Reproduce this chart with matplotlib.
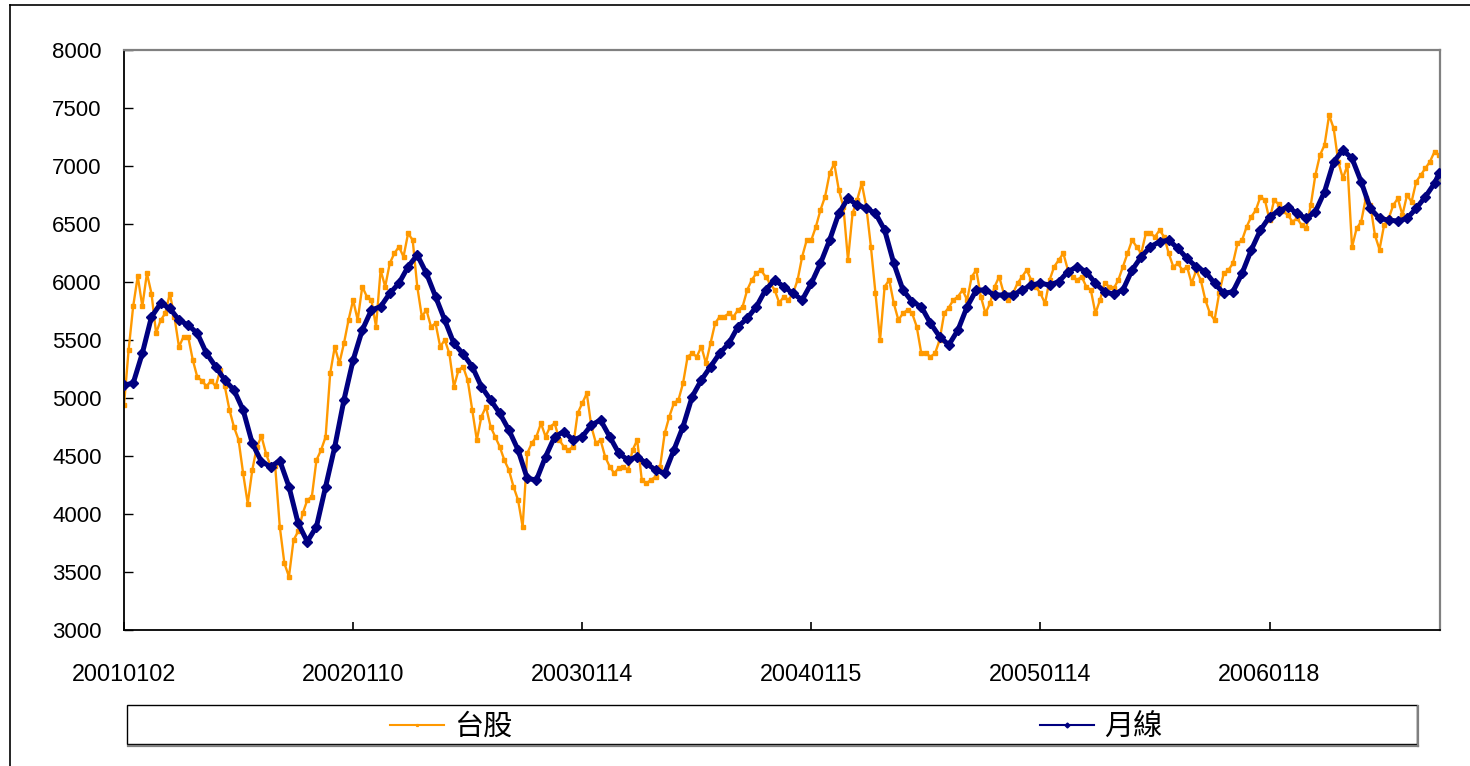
import numpy as np
import matplotlib
matplotlib.use("Agg")
import matplotlib.pyplot as plt
from matplotlib.lines import Line2D
from matplotlib.patches import Rectangle

# 台股 weekly readings (every 5 trading days, from 20010102)
taiex = [
    4940, 5410, 5790, 6050, 5790, 6075, 5900, 5560, 5670, 5730,
    5900, 5700, 5440, 5530, 5530, 5330, 5180, 5150, 5100, 5150,
    5100, 5240, 5100, 4900, 4750, 4640, 4350, 4090, 4380, 4580,
    4670, 4520, 4410, 4410, 3890, 3575, 3460, 3775, 3850, 4005,
    4120, 4150, 4465, 4550, 4665, 5213, 5442, 5299, 5471, 5672,
    5845, 5672, 5960, 5874, 5845, 5615, 6103, 5960, 6161, 6247,
    6304, 6218, 6419, 6362, 5960, 5701, 5759, 5615, 5644, 5442,
    5500, 5385, 5098, 5240, 5270, 5155, 4897, 4638, 4839, 4925,
    4753, 4667, 4580, 4465, 4379, 4236, 4120, 3890, 4523, 4610,
    4667, 4782, 4667, 4753, 4782, 4638, 4580, 4552, 4580, 4868,
    4954, 5040, 4753, 4610, 4638, 4494, 4408, 4350, 4400, 4408,
    4380, 4552, 4638, 4293, 4265, 4293, 4322, 4408, 4696, 4839,
    4954, 4983, 5127, 5356, 5385, 5356, 5443, 5299, 5471, 5644,
    5701, 5701, 5730, 5701, 5759, 5787, 5931, 6017, 6075, 6103,
    6046, 5989, 5931, 5820, 5874, 5845, 5902, 6017, 6218, 6362,
    6362, 6477, 6621, 6736, 6937, 7023, 6793, 6649, 6190, 6592,
    6707, 6851, 6649, 6305, 5902, 5500, 5960, 6017, 5816, 5672,
    5730, 5759, 5730, 5615, 5385, 5385, 5356, 5385, 5500, 5730,
    5780, 5845, 5874, 5931, 5845, 6046, 6103, 5874, 5730, 5816,
    5960, 6046, 5902, 5845, 5902, 5989, 6046, 6103, 6017, 5960,
    5902, 5816, 6017, 6132, 6190, 6247, 6103, 6046, 6017, 6046,
    5960, 5931, 5730, 5845, 5989, 5960, 5945, 6017, 6131, 6246,
    6361, 6304, 6246, 6419, 6419, 6390, 6447, 6390, 6246, 6131,
    6160, 6102, 6131, 5988, 6102, 6016, 5844, 5729, 5672, 5901,
    6074, 6102, 6160, 6332, 6361, 6476, 6562, 6619, 6734, 6706,
    6534, 6706, 6670, 6610, 6577, 6520, 6548, 6491, 6462, 6663,
    6922, 7094, 7180, 7439, 7324, 7037, 6893, 7008, 6300, 6462,
    6520, 6720, 6663, 6404, 6280, 6491, 6548, 6663, 6720, 6577,
    6749, 6692, 6864, 6922, 6979, 7037, 7123, 7094,
]

# 月線 readings (every 10 trading days, last one at day 1435)
monthly = [
    5112, 5127, 5385, 5700, 5816, 5773, 5672, 5629, 5558, 5385,
    5270, 5155, 5069, 4896, 4609, 4451, 4408, 4460, 4236, 3920,
    3762, 3891, 4236, 4580, 4983, 5327, 5586, 5759, 5787, 5902,
    5989, 6132, 6233, 6075, 5874, 5672, 5470, 5380, 5270, 5098,
    4983, 4868, 4724, 4552, 4307, 4293, 4494, 4667, 4710, 4638,
    4667, 4767, 4810, 4667, 4523, 4465, 4494, 4437, 4379, 4350,
    4552, 4753, 5012, 5155, 5270, 5385, 5471, 5615, 5687, 5787,
    5931, 6017, 5960, 5902, 5845, 5989, 6161, 6362, 6592, 6721,
    6664, 6635, 6592, 6448, 6161, 5931, 5830, 5787, 5644, 5529,
    5457, 5586, 5787, 5931, 5931, 5888, 5888, 5888, 5931, 5974,
    5989, 5974, 6003, 6089, 6132, 6089, 5989, 5916, 5895, 5931,
    6103, 6218, 6304, 6347, 6361, 6290, 6203, 6131, 6088, 5988,
    5902, 5916, 6074, 6275, 6447, 6562, 6613, 6649, 6591, 6548,
    6606, 6778, 7037, 7137, 7066, 6864, 6634, 6548, 6534, 6525,
    6548, 6634, 6735, 6850, 6936,
]

tick_labels = ["20010102", "20020110", "20030114", "20040115", "20050114", "20060118"]
tick_pos = [0, 250, 500, 750, 1000, 1250]

taiex_x = np.arange(len(taiex)) * 5
monthly_x = np.append(np.arange(len(monthly) - 1) * 10, 1435)

W, H = 1470, 766
fig = plt.figure(figsize=(W / 100, H / 100), dpi=100)
fig.patch.set_facecolor("white")

ax = fig.add_axes([124 / W, (H - 630) / H, 1316 / W, 580 / H])
ax.plot(taiex_x, taiex, color="#FF9900", lw=1.7, marker="s", ms=2.6,
        mec="#FF9900", label="台股", zorder=2)
ax.plot(monthly_x, monthly, color="#000080", lw=3.6, marker="D", ms=5.0,
        mec="#000080", label="月線", zorder=3)

ax.set_xlim(0, 1436)
ax.set_ylim(3000, 8000)
ax.set_yticks(np.arange(3000, 8001, 500))
ax.set_xticks(tick_pos)
ax.set_xticklabels(tick_labels)

for lab in ax.get_yticklabels():
    lab.set_fontfamily("Liberation Sans")
    lab.set_fontsize(16)
for lab in ax.get_xticklabels():
    lab.set_fontfamily("Liberation Sans")
    lab.set_fontsize(16.8)
ax.tick_params(axis="y", direction="in", length=6.5, width=1, pad=16)
ax.tick_params(axis="x", direction="in", length=6, width=1.2, pad=24)

for side in ["left", "bottom"]:
    ax.spines[side].set_color("black")
    ax.spines[side].set_linewidth(1.3)
for side in ["top", "right"]:
    ax.spines[side].set_color("#808080")
    ax.spines[side].set_linewidth(1.6)

# outer chart border (top and left visible)
fig.add_artist(Line2D([10 / W, 1], [1 - 5 / H, 1 - 5 / H], transform=fig.transFigure,
                      color="black", lw=1.2))
fig.add_artist(Line2D([10 / W, 10 / W], [0, 1 - 5 / H], transform=fig.transFigure,
                      color="black", lw=1.2))

# legend box
fig.add_artist(Line2D([128 / W, 1418 / W], [1 - 745.5 / H, 1 - 745.5 / H],
                      transform=fig.transFigure, color="#808080", lw=1.6))
fig.add_artist(Line2D([1418 / W, 1418 / W], [1 - 745.5 / H, 1 - 706 / H],
                      transform=fig.transFigure, color="#808080", lw=1.6))
fig.add_artist(Rectangle((127 / W, 1 - 744 / H), 1290 / W, 39 / H, fill=False,
                         ec="black", lw=1, transform=fig.transFigure))
leg = fig.legend(loc="center", bbox_to_anchor=(776.5 / W, 1 - 727 / H), ncol=2,
                 frameon=False, prop={"family": ["Noto Sans CJK TC", "DejaVu Sans"], "size": 21},
                 handlelength=1.85, handletextpad=0.35, columnspacing=18.1, numpoints=1,
                 markerscale=0.5)
for h in leg.legend_handles:
    h.set_linewidth(1.5)

fig.savefig("out.png", dpi=100)
